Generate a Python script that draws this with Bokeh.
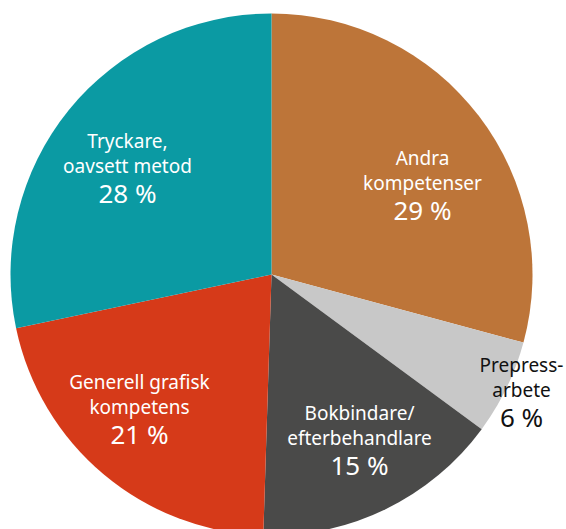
import math
from bokeh.plotting import figure
from bokeh.models import Range1d, ColumnDataSource
from bokeh.core.properties import value
from bokeh.embed import file_html
from bokeh.resources import INLINE

# ---- data ----
categories = ["Andra\nkompetenser", "Prepress-\narbete", "Bokbindare/\nefterbehandlare",
              "Generell grafisk\nkompetens", "Tryckare,\noavsett metod"]
shares = [29.2, 5.9, 15.4, 21.2, 28.3]
pct_labels = ["29 %", "6 %", "15 %", "21 %", "28 %"]

# ---- style ----
colors = ["#bd7539", "#c8c8c8", "#4a4a49", "#d63a19", "#0b9aa3"]
text_colors = ["white", "#111111", "white", "white", "white"]
# label block centres (page pixels)
label_pos = [(422, 183), (521, 390), (359, 438), (139, 407), (127, 166)]

W, H = 566, 529
p = figure(width=W, height=H, output_backend="svg", toolbar_location=None,
           x_range=Range1d(0, W), y_range=Range1d(0, H), min_border=0)
p.axis.visible = False
p.grid.visible = False
p.outline_line_color = None
p.background_fill_color = "white"

def px(x):
    return x

def py(y):
    return H - y

cx, cy, r = px(271), py(274), 261
total = sum(shares)
starts, ends = [], []
acc = 0.0
for s in shares:
    a0 = math.pi / 2 - 2 * math.pi * acc / total
    acc += s
    a1 = math.pi / 2 - 2 * math.pi * acc / total
    starts.append(a0)
    ends.append(a1)

src = ColumnDataSource(dict(x=[cx] * 5, y=[cy] * 5, start=starts, end=ends, color=colors))
p.wedge(x="x", y="y", radius=r, start_angle="start", end_angle="end", direction="clock",
        fill_color="color", line_color=None, source=src)

lx, ly, lt, lc = [], [], [], []
px_, py_, pt, pc = [], [], [], []
for cat, pl, (x0, y0), tc in zip(categories, pct_labels, label_pos, text_colors):
    lines = cat.split("\n")
    lx += [px(x0), px(x0)]
    ly += [py(y0 - 26), py(y0 - 1)]
    lt += lines
    lc += [tc, tc]
    px_.append(px(x0))
    py_.append(py(y0 + 26))
    pt.append(pl)
    pc.append(tc)

p.text(x=lx, y=ly, text=lt, text_color=lc, text_align="center", text_baseline="middle",
       text_font=value("Noto Sans"), text_font_size="19px")
p.text(x=px_, y=py_, text=pt, text_color=pc, text_align="center", text_baseline="middle",
       text_font=value("Noto Sans"), text_font_size="26px")

open("out.html", "w").write(file_html(p, INLINE))
